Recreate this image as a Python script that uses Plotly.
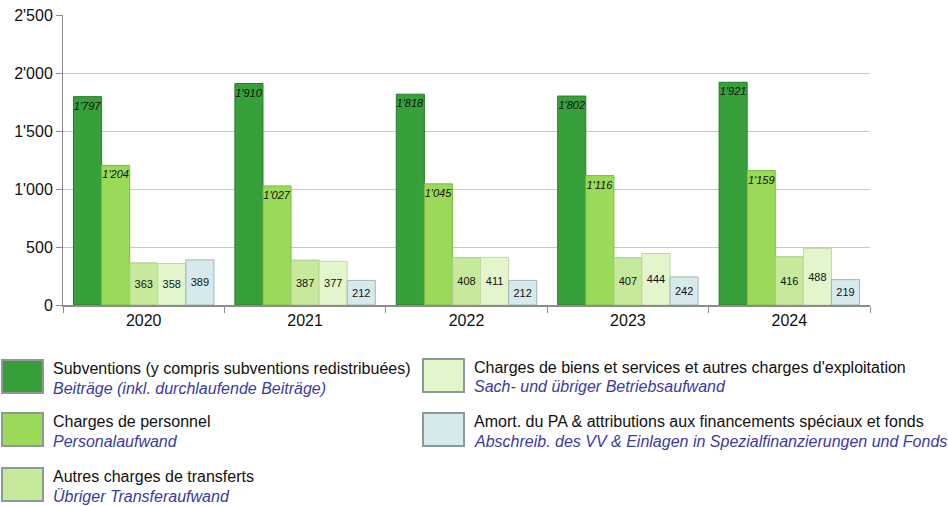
import plotly.graph_objects as go

# Data
years = ["2020", "2021", "2022", "2023", "2024"]
subventions = [1797, 1910, 1818, 1802, 1921]
personnel = [1204, 1027, 1045, 1116, 1159]
transferts = [363, 387, 408, 407, 416]
biens_services = [358, 377, 411, 444, 488]
amortissements = [389, 212, 212, 242, 219]

labels_fr = [
    "Subventions (y compris subventions redistribuées)",
    "Charges de personnel",
    "Autres charges de transferts",
    "Charges de biens et services et autres charges d'exploitation",
    "Amort. du PA & attributions aux financements spéciaux et fonds",
]
labels_de = [
    "Beiträge (inkl. durchlaufende Beiträge)",
    "Personalaufwand",
    "Übriger Transferaufwand",
    "Sach- und übriger Betriebsaufwand",
    "Abschreib. des VV & Einlagen in Spezialfinanzierungen und Fonds",
]

series = [subventions, personnel, transferts, biens_services, amortissements]
colors = ["#38a03a", "#9ada58", "#c6e99c", "#e3f6cb", "#d6eaec"]
edges = ["#2a7a2c", "#7cb844", "#a7c985", "#c3d6ae", "#9fb6ba"]
# big bars: italic label at top, small bars: label in middle
italic = [True, True, False, False, False]

FONT = "Liberation Sans, Arial"
FIG_W, FIG_H = 948, 506

fig = go.Figure()
for vals, name, col, edge, it in zip(series, labels_fr, colors, edges, italic):
    fig.add_trace(go.Bar(
        x=years, y=vals, name=name,
        marker=dict(color=col, line=dict(color=edge, width=1)),
        texttemplate="<i>%{y:,}</i>" if it else "%{y:,}",
        textposition="inside",
        insidetextanchor="end" if it else "middle",
        textangle=0,
        textfont=dict(family=FONT, size=11, color="#111111"),
        showlegend=False,
    ))

# plot area in pixels
W0, W1, H0, H1 = 63, 870, 15, 305


def px(x):
    return (x - W0) / (W1 - W0)


def py(y):
    return (H1 - y) / (H1 - H0)


# Custom legend (two columns, French + German lines)
legend_pos = [(2, 360), (2, 413), (2, 468), (423, 359), (423, 413)]
for (lx, ly), col, edge, fr, de in zip(legend_pos, colors, edges, labels_fr, labels_de):
    fig.add_shape(type="rect", xref="paper", yref="paper",
                  x0=px(lx), x1=px(lx + 41), y0=py(ly), y1=py(ly + 33),
                  fillcolor=col, line=dict(color="#8a9a9a", width=2))
    fig.add_annotation(xref="paper", yref="paper", x=px(lx + 49), y=py(ly + 8),
                       text=fr, showarrow=False, xanchor="left", yanchor="middle",
                       font=dict(family=FONT, size=16, color="#111111"))
    fig.add_annotation(xref="paper", yref="paper", x=px(lx + 49), y=py(ly + 28),
                       text="<i>" + de + "</i>", showarrow=False, xanchor="left", yanchor="middle",
                       font=dict(family=FONT, size=16, color="#3a3aa8"))

fig.update_layout(
    width=FIG_W, height=FIG_H,
    margin=dict(l=W0, r=FIG_W - W1, t=H0, b=FIG_H - H1, autoexpand=False),
    barmode="group", bargap=0.13, bargroupgap=0,
    plot_bgcolor="white", paper_bgcolor="white",
    separators=".'",
    font=dict(family=FONT, size=16, color="#111111"),
    uniformtext=dict(minsize=11, mode="show"),
)
fig.update_xaxes(
    automargin=False,
    showline=True, linecolor="#8c8c8c", linewidth=1.5,
    ticks="outside", tickson="boundaries", ticklen=6, tickcolor="#8c8c8c",
    tickfont=dict(size=16),
)
fig.update_yaxes(
    automargin=False, ticklabeloverflow="allow",
    range=[0, 2501], dtick=500, tickformat=",",
    showgrid=True, gridcolor="#c8c8c8", gridwidth=1,
    showline=True, linecolor="#8c8c8c", linewidth=1,
    ticks="outside", ticklen=6, tickcolor="#8c8c8c",
    tickfont=dict(size=16), zeroline=False,
)

# drop the default page margin so the figure sits at the window origin
fig.write_html(
    "out.html",
    config={"displayModeBar": False},
    post_script="document.body.style.margin='0';document.body.style.overflow='hidden';",
)
